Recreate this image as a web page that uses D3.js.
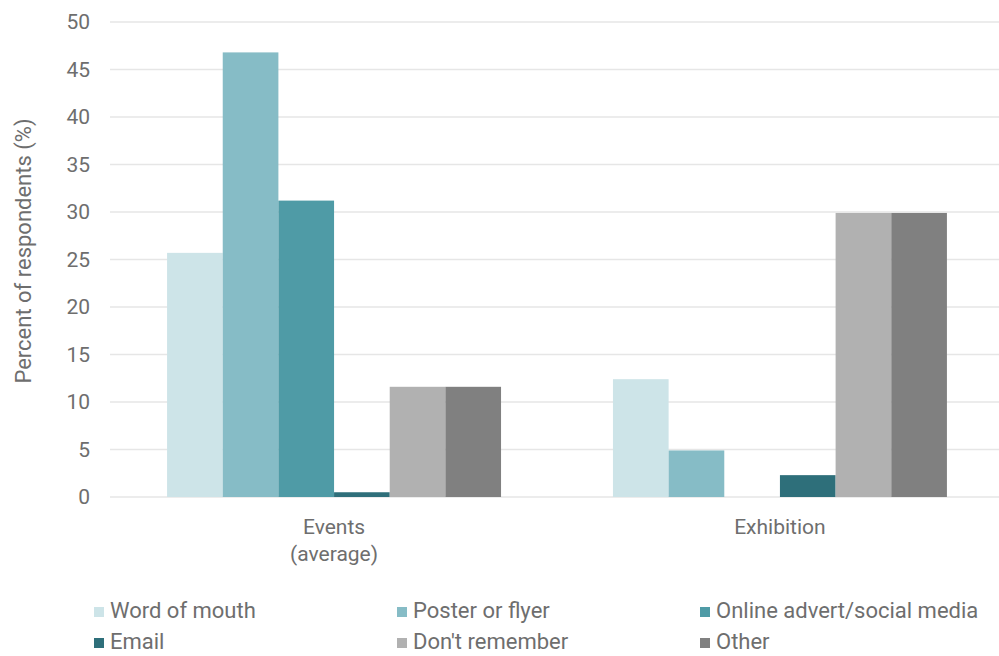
<!DOCTYPE html>
<html><head><meta charset="utf-8">
<script src="https://cdn.jsdelivr.net/npm/d3@7"></script>
<style>body{margin:0;background:#fff;}svg{display:block;font-family:Roboto,"Noto Sans",sans-serif;}</style>
</head><body>
<svg id="c" width="999" height="656"></svg>
<script>
const categories = [["Events","(average)"],["Exhibition"]];
const seriesNames = ["Word of mouth","Poster or flyer","Online advert/social media","Email","Don't remember","Other"];
const seriesColors = ["#cde4e8","#86bcc6","#4f9ba6","#2e6f7a","#b1b1b1","#808080"];
const eventsValues = [25.7, 46.8, 31.2, 0.5, 11.6, 11.6];
const exhibitionValues = [12.4, 4.9, 0, 2.3, 29.9, 29.9];
const yTicks = [0,5,10,15,20,25,30,35,40,45,50];
const groupValues = [eventsValues, exhibitionValues];

(function(){
const svg = d3.select("#c");
const pL = 110, pR = 1004, pT = 22, pB = 497;
const txt = "#6e6e6e";
const y = d3.scaleLinear().domain([0,50]).range([pB, pT]);
const x0 = d3.scaleBand().domain(d3.range(categories.length)).range([pL, pR]).paddingInner(0.251).paddingOuter(0.128);
const x1 = d3.scaleBand().domain(d3.range(seriesNames.length)).range([0, x0.bandwidth()]);

svg.append("g").selectAll("line").data(yTicks).join("line")
  .attr("x1", pL).attr("x2", 999).attr("y1", d=>y(d)).attr("y2", d=>y(d))
  .attr("stroke", "#e6e6e6").attr("stroke-width", 1.3);

const yAxis = d3.axisLeft(y).tickValues(yTicks).tickSize(0).tickPadding(0);
const ya = svg.append("g").attr("transform", `translate(90,0)`).call(yAxis);
ya.select(".domain").remove();
ya.selectAll("text").attr("fill",txt).attr("font-size","21px").attr("font-family","Roboto");

svg.append("text").attr("transform","translate(31,251) rotate(-90)")
  .attr("text-anchor","middle").attr("fill",txt).attr("font-size","22px")
  .text("Percent of respondents (%)");

const groups = svg.append("g").selectAll("g").data(groupValues).join("g")
  .attr("transform",(d,i)=>`translate(${x0(i)},0)`);
groups.selectAll("rect").data(d=>d.map((v,j)=>({v,j}))).join("rect")
  .attr("x", d=>x1(d.j)).attr("width", x1.bandwidth())
  .attr("y", d=>y(d.v)).attr("height", d=>pB - y(d.v))
  .attr("fill", d=>seriesColors[d.j]);

categories.forEach((lines,i)=>{
  const cx = x0(i)+x0.bandwidth()/2;
  const t = svg.append("text").attr("x", cx).attr("y", 534)
    .attr("text-anchor","middle").attr("fill",txt).attr("font-size","21px");
  lines.forEach((l,k)=>t.append("tspan").attr("x", cx).attr("dy", k===0?0:27).text(l));
});

const legCols = [94, 397, 700];
const legRows = [618, 649];
seriesNames.forEach((n,i)=>{
  const cx = legCols[i%3], ry = legRows[Math.floor(i/3)];
  svg.append("rect").attr("x", cx).attr("y", ry-11).attr("width", 10).attr("height", 10).attr("fill", seriesColors[i]);
  svg.append("text").attr("x", cx+16).attr("y", ry).attr("fill",txt).attr("font-size","22px").text(n);
});
})();
</script>
</body></html>
